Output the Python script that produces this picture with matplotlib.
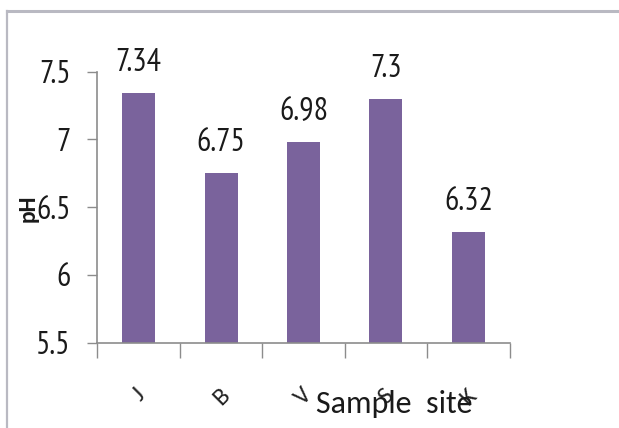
import matplotlib
matplotlib.use("Agg")
import matplotlib.pyplot as plt
from matplotlib.lines import Line2D
import numpy as np

# pH readings per sampling site
sites = ["J", "B", "V", "S", "K"]
ph = [7.34, 6.75, 6.98, 7.3, 6.32]
yticks = [5.5, 6, 6.5, 7, 7.5]
ytick_labels = ["5.5", "6", "6.5", "7", "7.5"]

bar_color = "#7a639c"
axis_color = "#8c8c8c"
narrow = ["PT Sans Narrow", "DejaVu Sans"]
body = ["Carlito", "DejaVu Sans"]

fig = plt.figure(figsize=(6.19, 4.28), dpi=100)
ax = fig.add_axes([97.3 / 619, 1 - 342.7 / 428, 412.4 / 619, 271 / 428])

x = np.arange(len(sites))
ax.bar(x, ph, width=0.4, color=bar_color, zorder=2)
for xi, v in zip(x, ph):
    ax.text(xi, v + 0.162, f"{v:g}", ha="center", va="baseline",
            fontsize=23, family=narrow, color="#1a1a1a", clip_on=False)

ax.set_xlim(-0.5, len(sites) - 0.5)
ax.set_ylim(5.5, 7.5)

# category boundaries carry the tick marks, centres carry the names
ax.set_xticks(np.arange(len(sites) + 1) - 0.5)
ax.set_xticklabels([])
ax.set_xticks(x, minor=True)
ax.set_xticklabels(sites, minor=True, rotation=45, fontsize=18,
                   family=body, color="#222222")
ax.tick_params(axis="x", which="major", length=11, width=1, color=axis_color)
ax.tick_params(axis="x", which="minor", length=0, pad=30)

ax.set_yticks(yticks)
ax.set_yticklabels(ytick_labels, family=narrow, fontsize=23, color="#1a1a1a")
ax.tick_params(axis="y", length=7, width=1, color=axis_color, pad=12)

for side in ["top", "right"]:
    ax.spines[side].set_visible(False)
for side in ["left", "bottom"]:
    ax.spines[side].set_color(axis_color)
    ax.spines[side].set_linewidth(1.2)

ax.set_xlabel("Sample  site", family=body, fontsize=23, color="#1a1a1a")
ax.xaxis.set_label_coords((394 - 97.3) / 412.4, (342.7 - 390) / 271)
ax.set_ylabel("pH", family=body, fontsize=17, fontweight="bold",
              color="#1a1a1a", va="center")
ax.yaxis.set_label_coords((28 - 97.3) / 412.4, (342.7 - 208) / 271)

# outer chart-area frame
frame = "#b9b9c2"
fig.add_artist(Line2D([7.3 / 619, 1.0], [1 - 10.7 / 428, 1 - 10.7 / 428],
                      transform=fig.transFigure, color=frame, lw=2.2))
fig.add_artist(Line2D([7.3 / 619, 7.3 / 619], [0, 1 - 10.7 / 428],
                      transform=fig.transFigure, color=frame, lw=1.6))

fig.savefig("out.png", dpi=100)
